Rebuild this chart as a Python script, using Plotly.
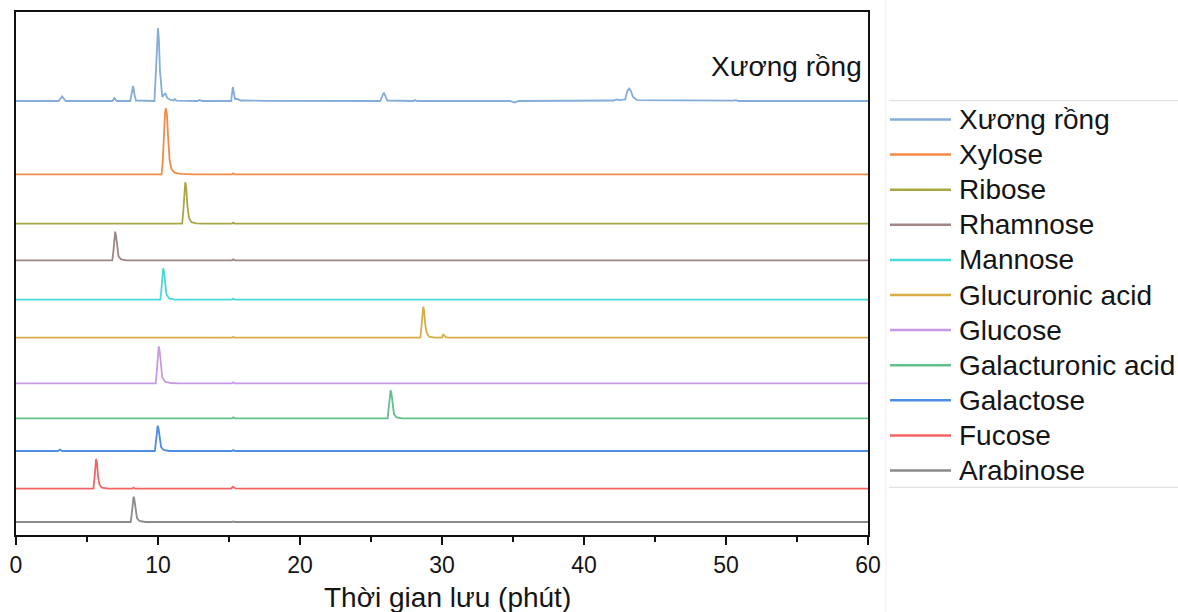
import plotly.graph_objects as go

# ---- data (retention time in minutes, signal above each trace's baseline) ----
names = ["Xương rồng", "Xylose", "Ribose", "Rhamnose", "Mannose", "Glucuronic acid",
         "Glucose", "Galacturonic acid", "Galactose", "Fucose", "Arabinose"]

colors = ["#84acd9", "#f58a45", "#a9a744", "#a08585", "#49dada", "#d9ad45",
          "#c69ae6", "#63c08a", "#4f8ce6", "#f26464", "#8a8a8a"]

# vertical stacking offsets (signal units)
offsets = [434, 360.7, 311.3, 274.7, 235.3, 197.3, 151.7, 116.7, 84, 46.3, 13]

xuong_rong = [(0, 0), (3.0, 0), (3.25, 4.5), (3.5, 0), (6.8, 0), (6.93, 3), (7.1, 0),
              (8.05, 0), (8.15, 8), (8.25, 15), (8.35, 6), (8.45, 0.5), (9.75, 0), (9.88, 40),
              (9.95, 66), (10.0, 73), (10.06, 62), (10.14, 30), (10.3, 4), (10.42, 7),
              (10.52, 8), (10.65, 3), (10.9, 1), (11.1, 0.5), (11.18, 2), (11.3, 0.3),
              (12.8, 0), (12.93, 1), (13.1, 0), (15.15, 0), (15.27, 14), (15.42, 2),
              (15.6, 2), (15.8, 0.5), (17.4, 0.3), (17.5, 0.8), (17.7, 0.2), (25.65, 0),
              (25.9, 8.5), (26.15, 0.5), (28.0, 0), (28.1, 1), (28.25, 0), (34.8, 0),
              (35.1, -1.5), (35.4, 0), (42.1, 0.5), (42.3, 1.5), (42.5, 0.8), (42.9, 1.5),
              (43.05, 10), (43.17, 12.5), (43.3, 10), (43.45, 4), (43.75, 0.8), (50.5, 0.3),
              (50.7, 0.8), (50.9, 0), (60, 0)]

xylose = [(0, 0), (10.25, 0), (10.33, 12), (10.42, 40), (10.5, 62), (10.56, 66),
          (10.63, 60), (10.72, 35), (10.82, 14), (10.95, 5), (11.2, 1.5), (11.6, 0.5),
          (12.5, 0), (15.2, 0), (15.3, 1), (15.4, 0), (60, 0)]

ribose = [(0, 0), (11.7, 0), (11.78, 12), (11.85, 32), (11.92, 41.5), (11.99, 36),
          (12.07, 18), (12.18, 6), (12.35, 1.5), (12.7, 0.3), (13.2, 0), (15.2, 0),
          (15.3, 1), (15.4, 0), (60, 0)]

rhamnose = [(0, 0), (6.78, 0), (6.86, 9), (6.92, 22), (6.98, 28.6), (7.04, 25),
            (7.12, 12), (7.22, 4), (7.4, 1), (7.8, 0), (15.2, 0), (15.3, 1), (15.4, 0),
            (60, 0)]

mannose = [(0, 0), (10.17, 0), (10.24, 10), (10.3, 24), (10.36, 31.4), (10.42, 28),
           (10.5, 14), (10.6, 5), (10.8, 1), (11.2, 0), (15.2, 0), (15.3, 1), (15.4, 0),
           (60, 0)]

glucuronic_acid = [(0, 0), (15.2, 0), (15.3, 0.8), (15.4, 0), (28.48, 0), (28.56, 10),
                   (28.62, 24), (28.68, 31), (28.74, 27), (28.82, 13), (28.92, 5),
                   (29.1, 1), (29.5, 0), (30.0, 0), (30.1, 3.5), (30.25, 0.5), (30.5, 0),
                   (60, 0)]

glucose = [(0, 0), (9.84, 0), (9.91, 11), (9.98, 29), (10.05, 37), (10.12, 32),
           (10.2, 16), (10.3, 6), (10.5, 1.5), (10.9, 0.3), (11.5, 0), (15.2, 0),
           (15.3, 1), (15.4, 0), (60, 0)]

galacturonic_acid = [(0, 0), (10.0, 0), (10.1, 0.6), (10.2, 0), (15.2, 0), (15.3, 1),
                     (15.4, 0), (26.17, 0), (26.25, 9), (26.32, 22), (26.38, 28),
                     (26.44, 25), (26.52, 12), (26.62, 4), (26.8, 1), (27.2, 0), (60, 0)]

galactose = [(0, 0), (2.95, 0), (3.1, 1.5), (3.25, 0), (9.78, 0), (9.85, 8), (9.92, 20),
             (9.98, 25.3), (10.04, 22), (10.12, 11), (10.22, 4), (10.4, 1), (10.8, 0),
             (15.2, 0), (15.3, 1), (15.4, 0), (60, 0)]

fucose = [(0, 0), (5.45, 0), (5.52, 9), (5.58, 23), (5.64, 29.7), (5.7, 26), (5.78, 12),
          (5.88, 4), (6.05, 1), (6.5, 0), (8.15, 0), (8.28, 1), (8.4, 0), (15.15, 0),
          (15.28, 2), (15.45, 0.3), (15.8, 0), (60, 0)]

arabinose = [(0, 0), (8.08, 0), (8.15, 8), (8.22, 20), (8.28, 25.3), (8.34, 22),
             (8.42, 11), (8.52, 4), (8.7, 1), (9.1, 0), (15.2, 0), (15.3, 0.6), (15.4, 0),
             (60, 0)]

series = [xuong_rong, xylose, ribose, rhamnose, mannose, glucuronic_acid, glucose,
          galacturonic_acid, galactose, fucose, arabinose]

x_ticks = [0, 10, 20, 30, 40, 50, 60]

# ---- layout geometry (pixels) ----
W, H = 1178, 612
L, R, T, B = 16, 310, 12, 77
PW, PH = W - L - R, H - T - B
FONT = "Liberation Sans, Arial, sans-serif"


def px_x(px):
    return (px - L) / PW


def px_y(py):
    return (H - B - py) / PH


fig = go.Figure()
for name, pts, col, off in zip(names, series, colors, offsets):
    fig.add_trace(go.Scatter(
        x=[p[0] for p in pts], y=[p[1] + off for p in pts], mode="lines", name=name,
        line=dict(color=col, width=1.8), showlegend=False, hoverinfo="skip"))

shapes = []
annotations = []

# manual legend
leg_y0, leg_dy = 119.5, 35.1
for i, (name, col) in enumerate(zip(names, colors)):
    yy = px_y(leg_y0 + i * leg_dy)
    shapes.append(dict(type="line", xref="paper", yref="paper", x0=px_x(890), x1=px_x(951),
                       y0=yy, y1=yy, line=dict(color=col, width=2.5)))
    annotations.append(dict(text=name, xref="paper", yref="paper", x=px_x(957), y=yy,
                            xanchor="left", yanchor="middle", showarrow=False,
                            font=dict(family=FONT, size=28, color="#151515")))

# legend frame lines and separator
for py in (100.7, 487.3):
    shapes.append(dict(type="line", xref="paper", yref="paper", x0=px_x(889), x1=px_x(1180),
                       y0=px_y(py), y1=px_y(py), line=dict(color="#dcdcdc", width=1)))
shapes.append(dict(type="line", xref="paper", yref="paper", x0=px_x(886), x1=px_x(886),
                   y0=px_y(0), y1=px_y(612), line=dict(color="#eeeeee", width=1)))

# in-plot label
annotations.append(dict(text="Xương rồng", xref="paper", yref="paper", x=px_x(864), y=px_y(67),
                        xanchor="right", yanchor="middle", showarrow=False,
                        font=dict(family=FONT, size=28, color="#151515")))
# x-axis title
annotations.append(dict(text="Thời gian lưu (phút)", xref="paper", yref="paper", x=px_x(447),
                        y=px_y(597), xanchor="center", yanchor="middle", showarrow=False,
                        font=dict(family=FONT, size=28, color="#151515")))

fig.update_layout(
    width=W, height=H,
    margin=dict(l=L, r=R, t=T, b=B, autoexpand=False),
    paper_bgcolor="white", plot_bgcolor="white",
    shapes=shapes, annotations=annotations, showlegend=False,
    xaxis=dict(range=[0, 60], tickvals=x_ticks, ticks="outside", ticklen=8, tickwidth=2,
               tickcolor="#111", showline=True, linewidth=2, linecolor="#111", mirror=True,
               showgrid=False, zeroline=False,
               tickfont=dict(family=FONT, size=23, color="#151515"),
               minor=dict(dtick=5, ticks="outside", ticklen=5, tickwidth=2, tickcolor="#111",
                          showgrid=False)),
    yaxis=dict(range=[0, PH], showticklabels=False, ticks="", showline=True, linewidth=2,
               linecolor="#111", mirror=True, showgrid=False, zeroline=False),
)

fig.write_html("out.html", config={"displayModeBar": False})
